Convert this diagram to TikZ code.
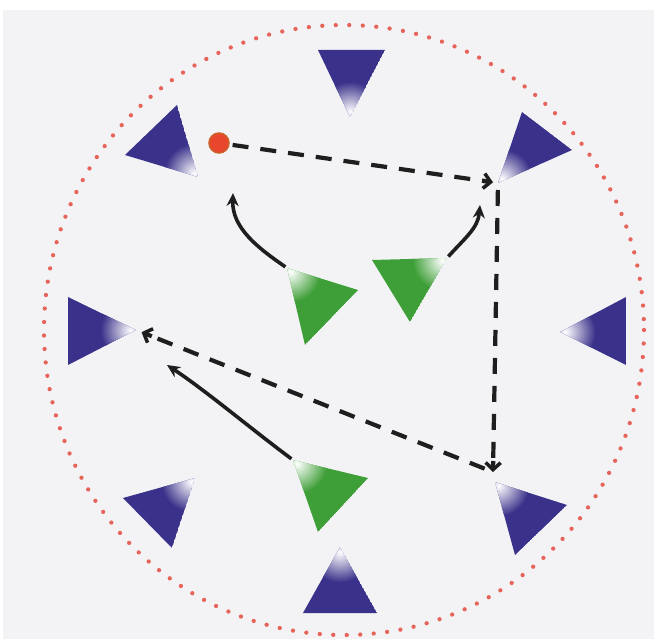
\documentclass[tikz,border=0pt]{standalone}
\usetikzlibrary{arrows.meta,calc}
\definecolor{navy}{RGB}{58,50,138}
\definecolor{leaf}{RGB}{62,158,55}
\definecolor{dotred}{RGB}{230,100,90}
\definecolor{paper}{RGB}{243,243,246}
\definecolor{ink}{RGB}{30,30,30}
\definecolor{redfill}{RGB}{232,70,45}
\definecolor{redline}{RGB}{205,95,40}
\tikzset{
  passline/.style={ink, line width=4.2pt, dash pattern=on 16pt off 12pt},
  passtip/.style={ink, line width=4.2pt, solid,
    -{Straight Barb[length=7pt,width=15pt,line width=3.5pt]}},
  runline/.style={ink, line width=3.6pt, -{Stealth[length=13pt,width=12pt]}},
  rim/.style={dotred, line width=4.3pt, line cap=round, dash pattern=on 0pt off 13.5pt},
  ball/.style={circle, fill=redfill, draw=redline, line width=1.5pt, minimum size=20pt, inner sep=0pt},
}
% #1 name, #2 #3 #4 vertices, #5 highlight vertex index, #6 colour
\newcommand{\cone}[6]{%
  \coordinate (#1-1) at (#2); \coordinate (#1-2) at (#3); \coordinate (#1-3) at (#4);
  \coordinate (#1-m) at ($(#1-1)!0.5!(#1-2)$);
  \coordinate (#1-c) at ($(#1-m)!0.3333!(#1-3)$);
  \begin{scope}
    \clip (#1-1) -- (#1-2) -- (#1-3) -- cycle;
    \fill[#6] (#1-1) -- (#1-2) -- (#1-3) -- cycle;
    \shade[inner color=white, outer color=#6] ($(#1-#5)!0.12!(#1-c)$) circle (30pt);
  \end{scope}
}
\begin{document}
\begin{tikzpicture}[x=1pt,y=-1pt]
  \fill[white] (0,0) rectangle (654,639);
  \fill[paper] (3,10) rectangle (654,639);
  \useasboundingbox (0,0) rectangle (654,639);

  \draw[rim] (344,330) ellipse [x radius=300, y radius=305];

  % blue cones
  \cone{tp}{318,50}{385,50}{350,117}{3}{navy}
  \cone{ul}{177,105}{125,155}{198,177}{3}{navy}
  \cone{ur}{522,112}{572,150}{498,183}{3}{navy}
  \cone{lm}{68,297}{68,365}{136,330}{3}{navy}
  \cone{rm}{626,297}{626,365}{560,332}{3}{navy}
  \cone{ll}{195,478}{123,498}{172,548}{1}{navy}
  \cone{bt}{340,547}{303,613}{377,613}{1}{navy}
  \cone{lr}{495,482}{567,505}{515,555}{1}{navy}
  % green players
  \cone{ga}{287,268}{358,290}{305,345}{1}{leaf}
  \cone{gb}{372,260}{447,258}{410,322}{2}{leaf}
  \cone{gc}{293,460}{368,478}{318,532}{1}{leaf}

  \node[ball] (rdot) at (219,143) {};

  \coordinate (turn) at (493,472);
  \coordinate (t1) at (233,193);
  \coordinate (t2) at (480,205);
  \coordinate (t3) at (167,365);

  % passes
  \draw[passline, shorten <=3pt, shorten >=12pt] (rdot) -- (ur-3);
  \draw[passtip, shorten >=5pt] ($(ur-3)!16pt!(rdot)$) -- (ur-3);
  \draw[passline, shorten <=7pt, shorten >=8pt] (ur-3) -- (turn);
  \draw[passtip] ($(turn)!11pt!(ur-3)$) -- (turn);
  \draw[passline, shorten <=9pt, shorten >=14pt] (turn) -- (lm-3);
  \draw[passtip, shorten >=6pt] ($(lm-3)!17pt!(turn)$) -- (lm-3);

  % runs
  \draw[runline, shorten <=2pt] (ga-1) .. controls (258,248) and (232,228) .. (t1);
  \draw[runline, shorten <=2pt] (gb-2) .. controls (465,238) and (478,228) .. (t2);
  \draw[runline, shorten <=2pt] (gc-1) .. controls (250,428) and (205,390) .. (t3);
\end{tikzpicture}
\end{document}
